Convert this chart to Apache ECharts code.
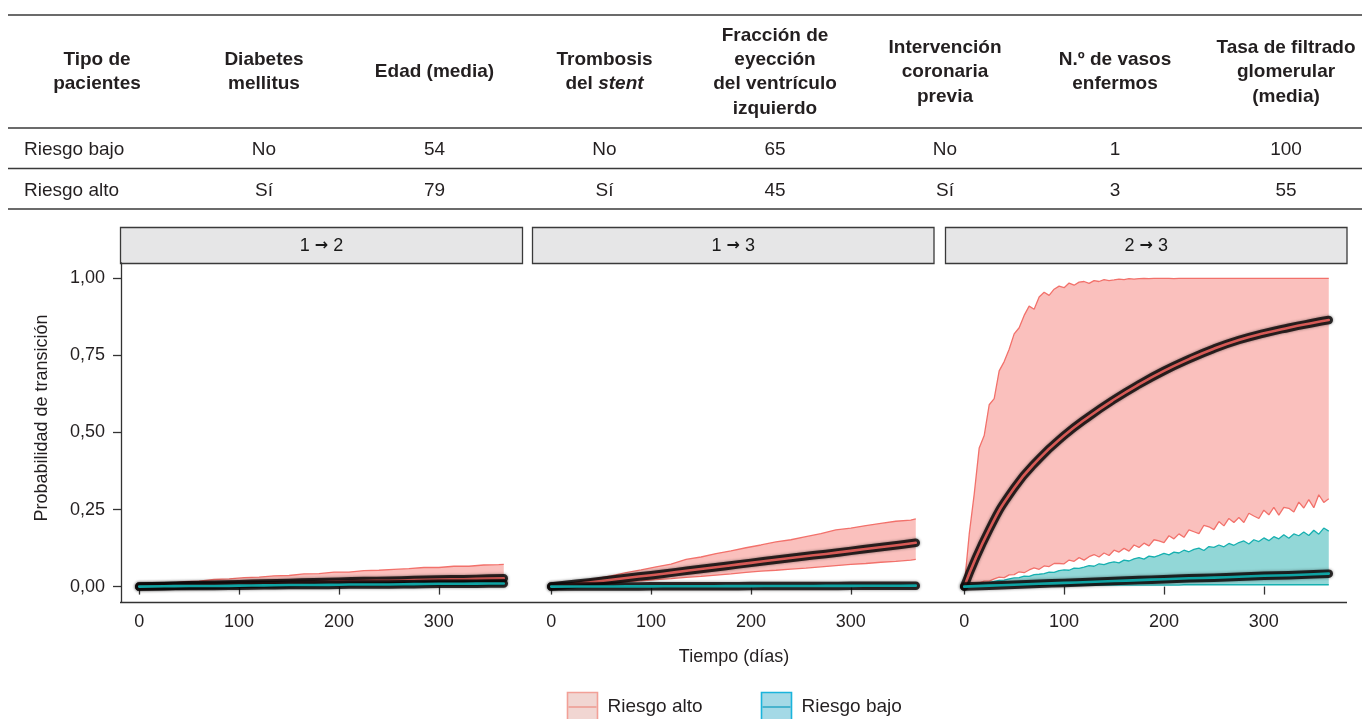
<!DOCTYPE html>
<html>
<head>
<meta charset="utf-8">
<script src="https://cdn.jsdelivr.net/npm/echarts@6/dist/echarts.min.js"></script>
<style>
html,body{margin:0;padding:0;background:#fff;}
#chart{width:1362px;height:719px;}
</style>
</head>
<body>
<div id="chart"></div>
<script>
// ---------- Table content ----------
const tableHeaders = [
  'Tipo de\npacientes', 'Diabetes\nmellitus', 'Edad (media)', 'Trombosis\ndel stent',
  'Fracción de\neyección\ndel ventrículo\nizquierdo', 'Intervención\ncoronaria\nprevia',
  'N.º de vasos\nenfermos', 'Tasa de filtrado\nglomerular\n(media)'
];
const rowBajo = ['Riesgo bajo', 'No', '54', 'No', '65', 'No', '1', '100'];
const rowAlto = ['Riesgo alto', 'Sí', '79', 'Sí', '45', 'Sí', '3', '55'];

// ---------- Facets / axes ----------
const panelFrom = ['1', '1', '2'];
const panelTo = ['2', '3', '3'];
const xTicks = [0, 100, 200, 300];
const yTicks = [0, 0.25, 0.5, 0.75, 1];
const legendLabels = ['Riesgo alto', 'Riesgo bajo'];

// ---------- Mean curves ----------
const meanDays = [0, 25, 50, 75, 100, 125, 150, 175, 200, 225, 250, 275, 300, 325, 350, 365];
const p1AltoMean = [0, 0.002, 0.004, 0.006, 0.008, 0.010, 0.012, 0.014, 0.016, 0.018, 0.019, 0.021, 0.023, 0.024, 0.026, 0.027];
const p1BajoMean = [0, 0.001, 0.002, 0.002, 0.003, 0.004, 0.005, 0.005, 0.006, 0.007, 0.007, 0.008, 0.009, 0.009, 0.010, 0.010];
const p2AltoMean = [0, 0.009, 0.018, 0.028, 0.037, 0.047, 0.057, 0.067, 0.077, 0.087, 0.097, 0.106, 0.116, 0.126, 0.136, 0.142];
const p2BajoMean = [0, 0.0002, 0.0004, 0.0006, 0.0008, 0.001, 0.0012, 0.0014, 0.0016, 0.0018, 0.002, 0.0022, 0.0024, 0.0026, 0.0028, 0.003];
const p3AltoMean = [0, 0.185, 0.32, 0.415, 0.49, 0.552, 0.607, 0.656, 0.70, 0.738, 0.772, 0.80, 0.822, 0.84, 0.856, 0.865];
const p3BajoMean = [0, 0.003, 0.006, 0.009, 0.012, 0.015, 0.018, 0.021, 0.024, 0.027, 0.029, 0.032, 0.035, 0.037, 0.040, 0.042];

// ---------- Bands, panels 1 and 2 (every 15 days) ----------
const bandDays15 = [0, 15, 30, 45, 60, 75, 90, 105, 120, 135, 150, 165, 180, 195, 210, 225, 240, 255, 270, 285, 300, 315, 330, 345, 360, 365];
const p1AltoUpper = [0, 0.007, 0.010, 0.016, 0.018, 0.023, 0.025, 0.029, 0.031, 0.035, 0.036, 0.041, 0.042, 0.047, 0.047, 0.052, 0.053, 0.056, 0.058, 0.062, 0.062, 0.066, 0.066, 0.070, 0.071, 0.072];
const p1AltoLower = [0, 0.001, 0.002, 0.002, 0.003, 0.003, 0.004, 0.005, 0.005, 0.006, 0.006, 0.007, 0.007, 0.008, 0.008, 0.009, 0.009, 0.010, 0.010, 0.011, 0.011, 0.012, 0.012, 0.013, 0.013, 0.013];
const p1BajoUpper = [0, 0.001, 0.002, 0.003, 0.004, 0.004, 0.005, 0.006, 0.006, 0.007, 0.008, 0.008, 0.009, 0.010, 0.010, 0.011, 0.012, 0.012, 0.013, 0.014, 0.014, 0.015, 0.016, 0.016, 0.017, 0.017];
const p1BajoLower = [0, 0, 0.001, 0.001, 0.001, 0.001, 0.002, 0.002, 0.002, 0.002, 0.003, 0.003, 0.003, 0.003, 0.003, 0.004, 0.004, 0.004, 0.004, 0.005, 0.005, 0.005, 0.005, 0.005, 0.006, 0.006];
const p2AltoUpper = [0, 0.008, 0.018, 0.026, 0.035, 0.045, 0.054, 0.064, 0.073, 0.088, 0.096, 0.107, 0.116, 0.126, 0.135, 0.145, 0.152, 0.162, 0.172, 0.184, 0.190, 0.198, 0.205, 0.212, 0.216, 0.220];
const p2AltoLower = [0, 0.003, 0.006, 0.009, 0.012, 0.016, 0.019, 0.023, 0.026, 0.030, 0.033, 0.037, 0.041, 0.046, 0.050, 0.053, 0.057, 0.060, 0.064, 0.068, 0.072, 0.075, 0.079, 0.082, 0.086, 0.088];
const p2BajoUpper = [0, 0.0005, 0.0008, 0.001, 0.0013, 0.0016, 0.0018, 0.002, 0.0023, 0.0025, 0.0028, 0.003, 0.0032, 0.0034, 0.0036, 0.0038, 0.004, 0.0042, 0.0044, 0.0046, 0.0048, 0.005, 0.0052, 0.0055, 0.0058, 0.006];
const p2BajoLower = [0, 0, 0, 0.0001, 0.0001, 0.0002, 0.0002, 0.0003, 0.0003, 0.0004, 0.0004, 0.0005, 0.0005, 0.0006, 0.0006, 0.0007, 0.0007, 0.0008, 0.0008, 0.0009, 0.0009, 0.001, 0.001, 0.001, 0.001, 0.001];

// ---------- Bands, panel 3 (every 5 days) ----------
const bandDays5 = [0, 5, 10, 15, 20, 25, 30, 35, 40, 45, 50, 55, 60, 65, 70, 75, 80, 85, 90, 95,
  100, 105, 110, 115, 120, 125, 130, 135, 140, 145, 150, 155, 160, 165, 170, 175, 180, 185, 190, 195,
  200, 205, 210, 215, 220, 225, 230, 235, 240, 245, 250, 255, 260, 265, 270, 275, 280, 285, 290, 295,
  300, 305, 310, 315, 320, 325, 330, 335, 340, 345, 350, 355, 360, 365];
const p3AltoUpper = [0, 0.17, 0.30, 0.45, 0.49, 0.59, 0.61, 0.70, 0.73, 0.77, 0.82, 0.84, 0.88, 0.91, 0.90, 0.94, 0.955, 0.945, 0.965, 0.975,
  0.97, 0.985, 0.978, 0.988, 0.99, 0.984, 0.993, 0.99, 0.996, 0.993, 0.995, 0.998, 0.996, 0.999, 0.998, 0.999, 1, 0.999, 1, 1,
  1, 1, 0.999, 1, 1, 1, 1, 1, 1, 1, 1, 1, 1, 1, 1, 1, 1, 1, 1, 1,
  1, 1, 1, 1, 1, 1, 1, 1, 1, 1, 1, 1, 1, 1];
const p3AltoLower = [0, 0.004, 0.009, 0.011, 0.018, 0.018, 0.025, 0.031, 0.029, 0.038,
  0.039, 0.048, 0.045, 0.054, 0.061, 0.056, 0.067, 0.065, 0.075, 0.075,
  0.074, 0.086, 0.082, 0.094, 0.086, 0.097, 0.104, 0.096, 0.109, 0.101,
  0.118, 0.112, 0.124, 0.115, 0.135, 0.127, 0.141, 0.132, 0.152, 0.148,
  0.143, 0.165, 0.155, 0.171, 0.16, 0.184, 0.178, 0.172, 0.199, 0.194,
  0.185, 0.211, 0.197, 0.221, 0.208, 0.224, 0.208, 0.238, 0.229, 0.221,
  0.248, 0.233, 0.257, 0.232, 0.257, 0.254, 0.242, 0.274, 0.255, 0.282,
  0.256, 0.298, 0.273, 0.285];
const p3BajoUpper = [0, 0.003, 0.006, 0.008, 0.012, 0.013, 0.017, 0.02, 0.021, 0.025,
  0.028, 0.029, 0.034, 0.033, 0.039, 0.04, 0.042, 0.047, 0.046, 0.052,
  0.054, 0.053, 0.06, 0.059, 0.063, 0.068, 0.066, 0.074, 0.071, 0.077,
  0.08, 0.077, 0.086, 0.083, 0.09, 0.094, 0.089, 0.099, 0.096, 0.101,
  0.108, 0.103, 0.112, 0.109, 0.118, 0.113, 0.121, 0.125, 0.117, 0.13,
  0.127, 0.135, 0.129, 0.14, 0.134, 0.143, 0.148, 0.138, 0.152, 0.146,
  0.158, 0.149, 0.162, 0.155, 0.168, 0.157, 0.171, 0.165, 0.177, 0.166,
  0.183, 0.17, 0.19, 0.18];
const p3BajoLower = [0, 0.001, 0.001, 0.001, 0.002, 0.002, 0.002, 0.002, 0.003, 0.003, 0.003, 0.003, 0.003, 0.003, 0.003, 0.004, 0.004, 0.004, 0.004, 0.004,
  0.004, 0.004, 0.004, 0.004, 0.005, 0.005, 0.005, 0.005, 0.005, 0.005, 0.005, 0.005, 0.005, 0.005, 0.005, 0.005, 0.005, 0.005, 0.005, 0.005,
  0.005, 0.005, 0.005, 0.005, 0.006, 0.006, 0.006, 0.006, 0.006, 0.006, 0.006, 0.006, 0.006, 0.006, 0.006, 0.006, 0.006, 0.006, 0.006, 0.006,
  0.006, 0.006, 0.006, 0.006, 0.006, 0.006, 0.006, 0.006, 0.006, 0.006, 0.006, 0.006, 0.006, 0.006];

// ---------- Styling ----------
const FONT = '"Liberation Sans", Arial, Helvetica, sans-serif';
const TXT = '#231f20';
const AXC = '#333333';
const altoEdge = '#F2716B';
const altoFill = 'rgba(244,116,108,0.45)';
const altoInner = '#D65A56';
const bajoEdge = '#17B0B0';
const bajoFill = 'rgba(18,168,168,0.46)';
const bajoInner = '#0FA3A3';

const panels = [
  {days: bandDays15, aU: p1AltoUpper, aL: p1AltoLower, bU: p1BajoUpper, bL: p1BajoLower, aM: p1AltoMean, bM: p1BajoMean},
  {days: bandDays15, aU: p2AltoUpper, aL: p2AltoLower, bU: p2BajoUpper, bL: p2BajoLower, aM: p2AltoMean, bM: p2BajoMean},
  {days: bandDays5,  aU: p3AltoUpper, aL: p3AltoLower, bU: p3BajoUpper, bL: p3BajoLower, aM: p3AltoMean, bM: p3BajoMean}
];
const gridLefts = [121, 533, 946];
const GRID_TOP = 263, GRID_H = 339, GRID_W = 401;

function zip(xs, ys) { return xs.map((x, k) => [x, ys[k]]); }

function bandSeries(i, days, up, lo, fill, z) {
  return {
    type: 'custom', xAxisIndex: i, yAxisIndex: i, silent: true, clip: true, z: z,
    data: [[days[0], lo[0]]],
    renderItem: function (params, api) {
      const pts = [];
      for (let k = 0; k < days.length; k++) pts.push(api.coord([days[k], up[k]]));
      for (let k = days.length - 1; k >= 0; k--) pts.push(api.coord([days[k], lo[k]]));
      return {type: 'polygon', shape: {points: pts}, style: {fill: fill}};
    }
  };
}
function edgeSeries(i, days, vals, color, z) {
  return {type: 'line', xAxisIndex: i, yAxisIndex: i, data: zip(days, vals), symbol: 'none', silent: true, z: z,
    lineStyle: {color: color, width: 1.3}};
}
function meanSeries(i, vals, inner, z) {
  return [
    {type: 'line', xAxisIndex: i, yAxisIndex: i, data: zip(meanDays, vals), symbol: 'none', smooth: 0.5, silent: true, z: z,
      lineStyle: {color: 'rgba(12,8,8,0.82)', width: 8.5, cap: 'round', join: 'round', shadowBlur: 3, shadowColor: 'rgba(0,0,0,0.55)'}},
    {type: 'line', xAxisIndex: i, yAxisIndex: i, data: zip(meanDays, vals), symbol: 'none', smooth: 0.5, silent: true, z: z + 1,
      lineStyle: {color: inner, width: 2.6, cap: 'round', join: 'round'}}
  ];
}

const series = [];
panels.forEach((p, i) => {
  series.push(bandSeries(i, p.days, p.aU, p.aL, altoFill, 2));
  series.push(edgeSeries(i, p.days, p.aU, altoEdge, 3));
  series.push(edgeSeries(i, p.days, p.aL, altoEdge, 3));
  series.push(bandSeries(i, p.days, p.bU, p.bL, bajoFill, 4));
  series.push(edgeSeries(i, p.days, p.bU, bajoEdge, 5));
  series.push(edgeSeries(i, p.days, p.bL, bajoEdge, 5));
  meanSeries(i, p.aM, altoInner, 6).forEach(s => series.push(s));
  meanSeries(i, p.bM, bajoInner, 8).forEach(s => series.push(s));
});

// ---------- Graphic: table, strips, axis titles, legend ----------
const graphic = [];
const colX = [97, 264, 434.5, 604.5, 775, 945, 1115, 1286];
const HEAD_Y = 72, ROW1_Y = 149.5, ROW2_Y = 190.5;
[15, 128, 168.5, 209].forEach(y => graphic.push({type: 'line', shape: {x1: 8, y1: y, x2: 1362, y2: y},
  style: {stroke: '#3a3a3a', lineWidth: 1.6}, silent: true}));
tableHeaders.forEach((h, c) => {
  let style;
  if (h.indexOf('stent') >= 0) {
    const parts = h.split('\n');
    style = {text: '{b|' + parts[0] + '}\n{b|del }{i|stent}',
      rich: {b: {fontFamily: FONT, fontWeight: 'bold', fontSize: 19, lineHeight: 24.3, fill: TXT},
             i: {fontFamily: FONT, fontWeight: 'bold', fontStyle: 'italic', fontSize: 19, lineHeight: 24.3, fill: TXT}}};
  } else {
    style = {text: h, fontFamily: FONT, fontWeight: 'bold', fontSize: 19, lineHeight: 24.3, fill: TXT};
  }
  style.align = 'center'; style.verticalAlign = 'middle';
  graphic.push({type: 'text', x: colX[c], y: HEAD_Y, style: style, silent: true});
});
[[rowBajo, ROW1_Y], [rowAlto, ROW2_Y]].forEach(([row, y]) => {
  row.forEach((v, c) => {
    graphic.push({type: 'text', x: c === 0 ? 24 : colX[c], y: y, silent: true,
      style: {text: v, fontFamily: FONT, fontSize: 19, fill: TXT, align: c === 0 ? 'left' : 'center', verticalAlign: 'middle'}});
  });
});
const stripX = [[120.5, 402], [532.5, 401.5], [945.5, 401.5]];
stripX.forEach(([x, w], i) => {
  graphic.push({type: 'rect', shape: {x: x, y: 227.5, width: w, height: 36}, style: {fill: '#e6e6e7', stroke: '#3a3a3a', lineWidth: 1.3}, silent: true});
  graphic.push({type: 'text', x: x + w / 2, y: 246, silent: true,
    style: {text: '{n|' + panelFrom[i] + ' }{a|→}{n| ' + panelTo[i] + '}', align: 'center', verticalAlign: 'middle',
      rich: {n: {fontFamily: FONT, fontSize: 18, fill: '#1a1a1a', lineHeight: 22},
             a: {fontFamily: '"DejaVu Sans", sans-serif', fontSize: 16, fontWeight: 'bold', fill: '#1a1a1a', lineHeight: 22}}}});
});
// bottom axis line across facets
graphic.push({type: 'line', shape: {x1: 120, y1: 602.5, x2: 1347, y2: 602.5}, style: {stroke: AXC, lineWidth: 1.3}, silent: true});
graphic.push({type: 'text', x: 42, y: 418, rotation: Math.PI / 2, silent: true,
  style: {text: 'Probabilidad de transición', fontFamily: FONT, fontSize: 18, fill: TXT, align: 'center', verticalAlign: 'middle'}});
graphic.push({type: 'text', x: 734, y: 657, silent: true,
  style: {text: 'Tiempo (días)', fontFamily: FONT, fontSize: 18, fill: TXT, align: 'center', verticalAlign: 'middle'}});
// legend
const legendCfg = [
  {x: 567.5, fill: '#f1d6d2', stroke: '#f2a097', line: '#ec9a90'},
  {x: 761.5, fill: '#a4d9e6', stroke: '#1ab4dc', line: '#2aa6c4'}
];
legendCfg.forEach((l, i) => {
  graphic.push({type: 'rect', shape: {x: l.x, y: 692.5, width: 30, height: 32}, style: {fill: l.fill, stroke: l.stroke, lineWidth: 1.6}, silent: true});
  graphic.push({type: 'line', shape: {x1: l.x + 1, y1: 707, x2: l.x + 29, y2: 707}, style: {stroke: l.line, lineWidth: 1.5}, silent: true});
  graphic.push({type: 'text', x: l.x + 40, y: 707, silent: true,
    style: {text: legendLabels[i], fontFamily: FONT, fontSize: 19, fill: TXT, align: 'left', verticalAlign: 'middle'}});
});

const yFmt = v => v.toFixed(2).replace('.', ',');

const option = {
  animation: false,
  backgroundColor: '#ffffff',
  textStyle: {fontFamily: FONT},
  grid: gridLefts.map(l => ({left: l, top: GRID_TOP, width: GRID_W, height: GRID_H, containLabel: false})),
  xAxis: gridLefts.map((l, i) => ({
    type: 'value', gridIndex: i, min: -18.25, max: 383.25,
    axisLine: {show: false}, splitLine: {show: false},
    axisTick: {show: true, customValues: xTicks, length: 8, lineStyle: {color: AXC, width: 1.3}},
    axisLabel: {customValues: xTicks, fontSize: 18, color: TXT, margin: 11, fontFamily: FONT}
  })),
  yAxis: gridLefts.map((l, i) => ({
    type: 'value', gridIndex: i, min: -0.05, max: 1.05, show: i === 0,
    axisLine: {show: true, onZero: false, lineStyle: {color: AXC, width: 1.3}},
    splitLine: {show: false},
    axisTick: {show: true, customValues: yTicks, length: 8, lineStyle: {color: AXC, width: 1.3}},
    axisLabel: {customValues: yTicks, formatter: yFmt, fontSize: 18, color: TXT, margin: 16, fontFamily: FONT}
  })),
  series: series,
  graphic: graphic
};

const chart = echarts.init(document.getElementById('chart'), null, {renderer: 'canvas'});
chart.setOption(option);
</script>
</body>
</html>
